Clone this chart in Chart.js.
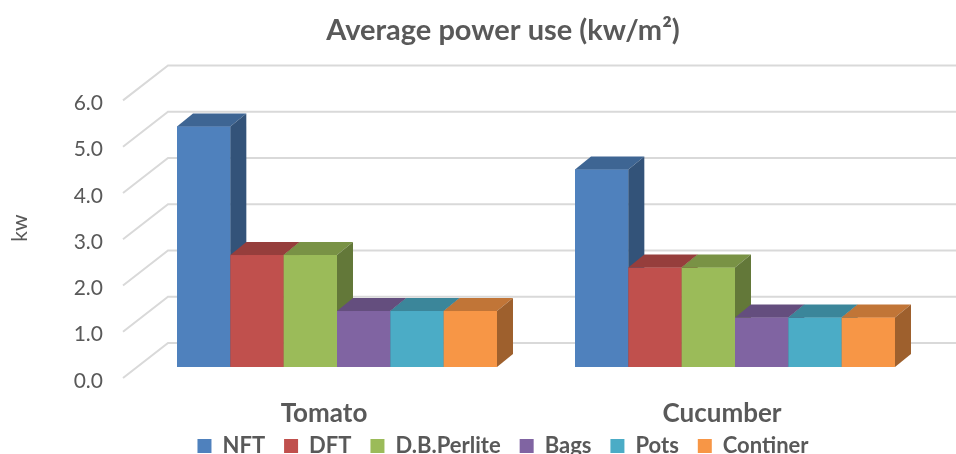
<!DOCTYPE html>
<html><head><meta charset="utf-8">
<script src="https://cdn.jsdelivr.net/npm/chart.js@4.4.1/dist/chart.umd.min.js"></script>
<style>html,body{margin:0;padding:0;background:#fff;}#wrap{width:956px;height:454px;}</style>
</head><body><div id="wrap"><canvas id="c" width="956" height="454"></canvas></div>
<script>
const categories = ["Tomato", "Cucumber"];
const seriesNames = ["NFT", "DFT", "D.B.Perlite", "Bags", "Pots", "Continer"];
const nftValues = [5.2, 4.27];
const dftValues = [2.42, 2.15];
const perliteValues = [2.42, 2.15];
const bagsValues = [1.21, 1.07];
const potsValues = [1.21, 1.07];
const continerValues = [1.21, 1.07];
const yTicks = [0, 1, 2, 3, 4, 5, 6];
const seriesColors = ["#4F81BD", "#C0504D", "#9BBB59", "#8064A2", "#4BACC6", "#F79646"];
const allValues = [nftValues, dftValues, perliteValues, bagsValues, potsValues, continerValues];

const TEXT = '#595959';
const FONT = 'Lato';
const DX = 16, DY = 13;          // bar depth
const WALL_DX = 30, WALL_DY = 24; // back wall offset
const FLOOR_DX = 15, FLOOR_DY = 11; // front edge offset
const LEGEND_TEXT_Y = 446;

function shade(hex, f) {
  const n = parseInt(hex.slice(1), 16);
  const r = Math.round(((n >> 16) & 255) * f), g = Math.round(((n >> 8) & 255) * f), b = Math.round((n & 255) * f);
  return 'rgb(' + r + ',' + g + ',' + b + ')';
}

const threeD = {
  id: 'threeD',
  afterLayout(chart) {
    const lg = chart.legend;
    if (!lg) return;
    const lo = lg.options.labels;
    const want = LEGEND_TEXT_Y - lo.padding - lo.font.size / 2;
    const d = lg.top - want;
    lg.top -= d; lg.bottom -= d;
  },
  beforeDatasetsDraw(chart) {
    const {ctx, chartArea, scales: {y}} = chart;
    ctx.save();
    ctx.strokeStyle = '#D9D9D9';
    ctx.lineWidth = 2;
    y.ticks.forEach(t => {
      const py = y.getPixelForValue(t.value);
      ctx.beginPath();
      ctx.moveTo(chartArea.left - FLOOR_DX, py + FLOOR_DY);
      ctx.lineTo(chartArea.left + WALL_DX, py - WALL_DY);
      ctx.lineTo(chart.width, py - WALL_DY);
      ctx.stroke();
    });
    ctx.restore();
  },
  afterDatasetsDraw(chart) {
    const {ctx} = chart;
    ctx.save();
    const nCat = chart.data.labels.length;
    for (let j = 0; j < nCat; j++) {
      chart.data.datasets.forEach((ds, i) => {
        const meta = chart.getDatasetMeta(i);
        if (meta.hidden) return;
        const bar = meta.data[j];
        const p = bar.getProps(['x', 'y', 'base', 'width'], true);
        const l = p.x - p.width / 2, r = p.x + p.width / 2;
        const c = ds.backgroundColor;
        ctx.fillStyle = c;
        ctx.fillRect(l, p.y, p.width, p.base - p.y);
        ctx.fillStyle = shade(c, 0.78);
        ctx.beginPath();
        ctx.moveTo(l, p.y); ctx.lineTo(r, p.y); ctx.lineTo(r + DX, p.y - DY); ctx.lineTo(l + DX, p.y - DY);
        ctx.closePath(); ctx.fill();
        ctx.fillStyle = shade(c, 0.64);
        ctx.beginPath();
        ctx.moveTo(r, p.y); ctx.lineTo(r + DX, p.y - DY); ctx.lineTo(r + DX, p.base - DY); ctx.lineTo(r, p.base);
        ctx.closePath(); ctx.fill();
      });
    }
    ctx.restore();
  }
};

new Chart(document.getElementById('c'), {
  type: 'bar',
  data: {
    labels: categories,
    datasets: seriesNames.map((name, i) => ({
      label: name,
      data: allValues[i],
      backgroundColor: seriesColors[i],
      borderWidth: 0,
      categoryPercentage: 0.804,
      barPercentage: 1
    }))
  },
  plugins: [threeD],
  options: {
    responsive: false,
    devicePixelRatio: 1,
    animation: false,
    layout: {padding: {left: 72, right: 22, top: 0, bottom: -26}},
    plugins: {
      tooltip: {enabled: false},
      title: {
        display: true,
        text: 'Average power use (kw/m²)',
        color: TEXT,
        font: {family: FONT, weight: 'bold', size: 29},
        padding: {top: 13.6, bottom: 41}
      },
      legend: {
        position: 'bottom',
        labels: {
          boxWidth: 14, boxHeight: 14, padding: 19, color: TEXT,
          font: {family: FONT, weight: 'bold', size: 22}
        }
      }
    },
    scales: {
      x: {
        grid: {display: false, drawTicks: false},
        border: {display: false},
        ticks: {color: TEXT, font: {family: FONT, weight: 'bold', size: 26}, padding: 31, labelOffset: -13},
        afterFit(s) { s.height = 62; }
      },
      y: {
        min: 0, max: 6,
        grid: {display: false, drawTicks: false},
        border: {display: false},
        afterBuildTicks(s) { s.ticks = yTicks.map(v => ({value: v})); },
        ticks: {color: TEXT, font: {family: FONT, size: 21}, padding: 35, labelOffset: 14,
          callback: v => Number(v).toFixed(1)},
        title: {display: true, text: 'kw', color: TEXT, font: {family: FONT, size: 21}, padding: {top: -64, bottom: 0}},
        afterFit(s) { s.width = 66; }
      }
    }
  }
});
</script></body></html>
